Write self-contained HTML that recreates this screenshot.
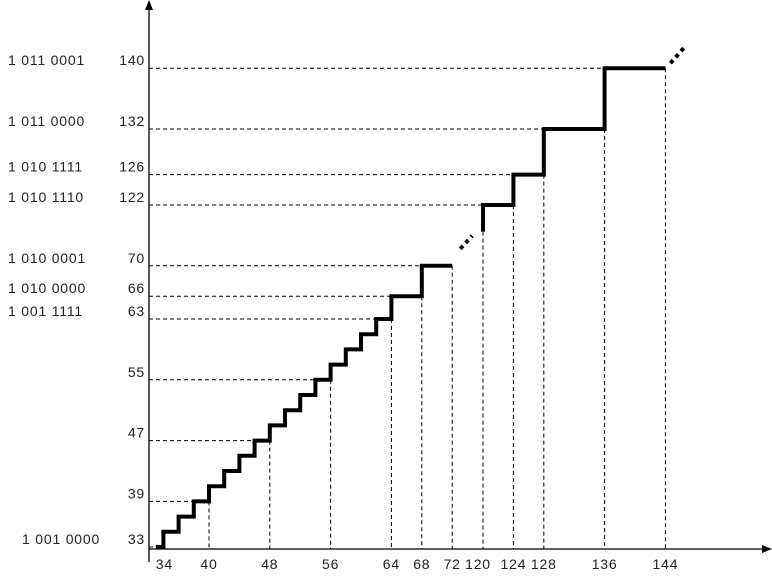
<!DOCTYPE html>
<html><head><meta charset="utf-8"><style>
html,body{margin:0;padding:0;background:#fff;}
svg{display:block;font-family:"Liberation Sans",sans-serif;font-size:14px;letter-spacing:0.8px;}
</style></head><body>
<svg id="chart" width="772" height="578" viewBox="0 0 772 578" xmlns="http://www.w3.org/2000/svg"></svg>
<script>
// y tick values & labels
const yTicks1 = [33, 39, 47, 55, 63, 66, 70];
const yTicks2 = [122, 126, 132, 140];
const binLabels = {33:"1 001 0000",63:"1 001 1111",66:"1 010 0000",70:"1 010 0001",122:"1 010 1110",126:"1 010 1111",132:"1 011 0000",140:"1 011 0001"};
const xTicks1 = [34, 40, 48, 56, 64, 68, 72];
const xTicks2 = [120, 124, 128, 136, 144];
// staircase segment 1: step start x and level
const stepX1 = [33,34,36,38,40,42,44,46,48,50,52,54,56,58,60,62,64,68];
const stepY1 = [33,35,37,39,41,43,45,47,49,51,53,55,57,59,61,63,66,70];
const endX1 = 72;
// segment 2
const stepX2 = [120,124,128,136];
const stepY2 = [122,126,132,140];
const endX2 = 144;
const startY2 = 118.5;

const U = 7.6;
function sx(v){ return v <= 100 ? Math.max(149, 209 + (v-40)*U) : 483 + (v-120)*U; }
function sy(v){ return v <= 100 ? 547 - (v-33)*U : 205 - (v-122)*U; }

const svg = document.getElementById('chart');
const NS = "http://www.w3.org/2000/svg";
function mk(tag, attrs, parent){
  const e = document.createElementNS(NS, tag);
  for (const k in attrs) e.setAttribute(k, attrs[k]);
  (parent||svg).appendChild(e); return e;
}

function levelAt(xs, ys, x){ let l = ys[0]; for (let i=0;i<xs.length;i++) if (xs[i] <= x) l = ys[i]; return l; }

// horizontal dashed guides
[...yTicks1, ...yTicks2].forEach(v=>{
  let xEnd;
  if (v <= 100){ const i = stepY1.indexOf(v); xEnd = sx(i>=0 ? stepX1[i] : 34); }
  else { const i = stepY2.indexOf(v); xEnd = sx(stepX2[i]); }
  const l = mk('line',{x1:149,x2:xEnd,y1:sy(v),y2:sy(v),stroke:'#000','stroke-width':1,'stroke-dasharray':'4,3'});
  
  
  const t = mk('text',{x:145,y:sy(v)-3,'text-anchor':'end',fill:'#222'});
  t.textContent = v;
  
  
  if (binLabels[v]){
    const b = mk('text',{x:8,y:sy(v)-3,fill:'#222'});
    if (v===33){ b.setAttribute('x',22); }
    b.textContent = binLabels[v];
    
    
  }
});
// vertical dashed guides
xTicks1.forEach(v=>{
  if (v!==34){
    const top = sy(levelAt(stepX1, stepY1, v-0.01));
    const l = mk('line',{x1:sx(v),x2:sx(v),y1:top,y2:549,stroke:'#000','stroke-width':1,'stroke-dasharray':'4,3'});
    
    
  }
  const t = mk('text',{x:sx(v)+(v===34?1:0),y:569,'text-anchor':'middle',fill:'#222'});
  t.textContent = v;
  
  
});
xTicks2.forEach(v=>{
  const top = v===120 ? sy(startY2) : sy(levelAt(stepX2, stepY2, v-0.01));
  const l = mk('line',{x1:sx(v),x2:sx(v),y1:top,y2:549,stroke:'#000','stroke-width':1,'stroke-dasharray':'4,3'});
  
  
  const t = mk('text',{x:sx(v)-(v===120?5:0),y:569,'text-anchor':'middle',fill:'#222'});
  t.textContent = v;
  
  
});

// axes
const ya = mk('line',{x1:149,x2:149,y1:4,y2:562,stroke:'#000','stroke-width':1.3});


const yar = mk('path',{d:'M149,0 L145,10 L153,10 Z',fill:'#000'});


const xa = mk('line',{x1:149,x2:766,y1:549,y2:549,stroke:'#000','stroke-width':1.3});


const xar = mk('path',{d:'M772,549 L762,545 L762,553 Z',fill:'#000'});



// staircase paths
function stairPath(xs, ys, endX, startLevel){
  let d = startLevel!==undefined ? `M${sx(xs[0])},${sy(startLevel)} L${sx(xs[0])},${sy(ys[0])}` : `M${sx(xs[0])},${sy(ys[0])}`;
  for (let i=0;i<xs.length;i++){
    const nx = i+1<xs.length ? xs[i+1] : endX;
    d += ` L${sx(nx)},${sy(ys[i])}`;
    if (i+1<xs.length) d += ` L${sx(nx)},${sy(ys[i+1])}`;
  }
  return d;
}
const s1 = mk('path',{d:stairPath(stepX1,stepY1,endX1),fill:'none',stroke:'#000','stroke-width':4,'stroke-linejoin':'miter'});


const s2 = mk('path',{d:stairPath(stepX2,stepY2,endX2,startY2),fill:'none',stroke:'#000','stroke-width':4,'stroke-linejoin':'miter'});



// continuation dots
const d1 = mk('path',{d:`M${sx(endX1)+8},${sy(70)-17} L${sx(endX1)+20},${sy(70)-30}`,stroke:'#000','stroke-width':4,'stroke-dasharray':'4,4',fill:'none'});


const d2 = mk('path',{d:`M${sx(endX2)+5},${sy(140)-5} L${sx(endX2)+20},${sy(140)-22}`,stroke:'#000','stroke-width':4,'stroke-dasharray':'4,4',fill:'none'});


</script>
</body></html>
